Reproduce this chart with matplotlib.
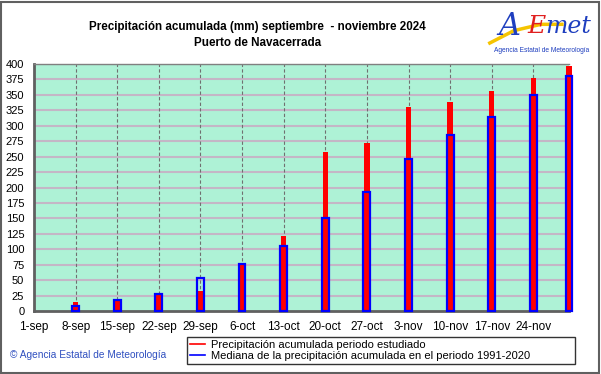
"""Precipitación acumulada semanal frente a la mediana 1991-2020 (Puerto de Navacerrada)."""

import matplotlib

matplotlib.use("Agg")
import matplotlib.pyplot as plt
from matplotlib.lines import Line2D
from matplotlib.patches import Rectangle

plt.rcParams["font.family"] = ["Liberation Sans", "DejaVu Sans"]

# days counted from 1-sep
tick_days = [0, 7, 14, 21, 28, 35, 42, 49, 56, 63, 70, 77, 84]
tick_labels = ["1-sep", "8-sep", "15-sep", "22-sep", "29-sep", "6-oct", "13-oct",
               "20-oct", "27-oct", "3-nov", "10-nov", "17-nov", "24-nov"]
bar_days = [7, 14, 21, 28, 35, 42, 49, 56, 63, 70, 77, 84, 90]
observed = [14, 16, 26, 32, 74, 121, 258, 272, 331, 339, 356, 378, 397]
median = [8, 18, 28, 53, 76, 105, 151, 193, 247, 285, 314, 350, 380]

fig = plt.figure(figsize=(6.01, 3.74), dpi=100)
ax = fig.add_axes([0.0566, 0.1684, 0.8902, 0.6604])
ax.set_facecolor("#aef2d6")

ax.bar(bar_days, observed, width=0.9, color="#ff0000", zorder=3, clip_on=False)
ax.bar(bar_days, median, width=1.15, facecolor="none", edgecolor="#0000ff",
       linewidth=1.6, zorder=4, clip_on=False)

ax.set_xlim(0, 90)
ax.set_ylim(0, 400)
ax.set_yticks(range(0, 401, 25))
ax.set_xticks(tick_days)
ax.set_xticklabels(tick_labels)
ax.tick_params(length=0, labelsize=8.5, pad=7)
ax.tick_params(axis="y", labelsize=8, pad=7)
for y in range(25, 401, 25):
    ax.axhline(y, color="#c4b6c6", linewidth=1.5, zorder=1)
for d in tick_days[1:]:
    ax.axvline(d, color="#707070", linewidth=0.8, linestyle=(0, (3, 2)), zorder=2)

for side in ("left", "bottom"):
    ax.spines[side].set_color("#606060")
    ax.spines[side].set_linewidth(2)
ax.spines["top"].set_color("#808080")
ax.spines["top"].set_linewidth(1)
ax.spines["right"].set_visible(False)

fig.text(0.428, 0.928, "Precipitación acumulada (mm) septiembre  - noviembre 2024",
         ha="center", va="center", fontsize=8.4, fontweight="bold")
fig.text(0.428, 0.886, "Puerto de Navacerrada", ha="center", va="center",
         fontsize=8.4, fontweight="bold")

# logo aproximado
fig.add_artist(Line2D([0.815, 0.855, 0.900, 0.935], [0.885, 0.918, 0.935, 0.935],
                      color="#f5c400", linewidth=2.5, transform=fig.transFigure))
fig.text(0.848, 0.930, "A", color="#1f3fbf", fontsize=22, style="italic",
         family="DejaVu Serif", ha="center", va="center")
fig.text(0.893, 0.930, "E", color="#e02020", fontsize=18, style="italic",
         family="DejaVu Serif", ha="center", va="center")
fig.text(0.945, 0.930, "met", color="#1f3fbf", fontsize=17, style="italic",
         family="DejaVu Serif", ha="center", va="center")
fig.text(0.902, 0.866, "Agencia Estatal de Meteorología", color="#1f3fbf",
         fontsize=4.8, ha="center", va="center")

fig.text(0.017, 0.05, "© Agencia Estatal de Meteorología", color="#3050c0",
         fontsize=7.3, ha="left", va="center")

handles = [Line2D([], [], color="#ff0000", linewidth=1.2),
           Line2D([], [], color="#0000ff", linewidth=1.2)]
leg = fig.legend(handles,
                 ["Precipitación acumulada periodo estudiado",
                  "Mediana de la precipitación acumulada en el periodo 1991-2020"],
                 loc="lower left", bbox_to_anchor=(0.311, 0.027, 0.646, 0.078),
                 mode="expand", fontsize=8, frameon=True, fancybox=False,
                 handlelength=1.3, handletextpad=0.6, borderpad=0.3,
                 labelspacing=0.05, borderaxespad=0)
leg.get_frame().set_edgecolor("#000000")
leg.get_frame().set_linewidth(1)

fig.add_artist(Rectangle((0.002, 0.004), 0.994, 0.99, transform=fig.transFigure,
                         fill=False, edgecolor="#606060", linewidth=1.5))

fig.savefig("out.png", dpi=100)
